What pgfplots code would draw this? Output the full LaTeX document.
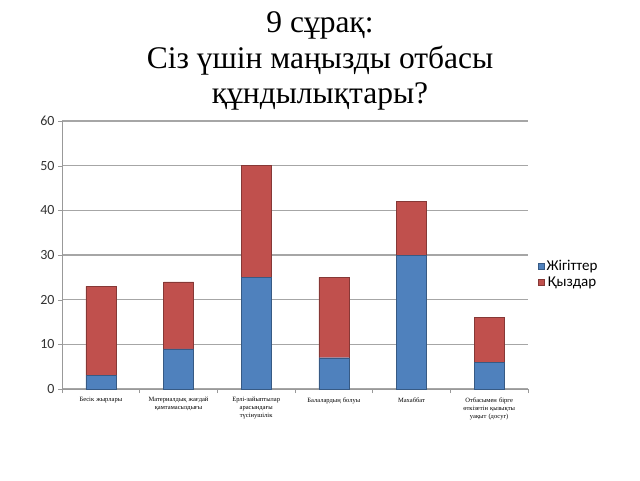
\documentclass[border=0pt]{standalone}
\usepackage{pgfplots}
\pgfplotsset{compat=1.18}
\usepackage{fontspec}
\setmainfont{Liberation Serif}
\newfontfamily\calfont{Carlito}
\definecolor{cblue}{HTML}{4F81BD}
\definecolor{cred}{HTML}{C0504D}
\begin{document}
\begin{tikzpicture}[x=1pt,y=1pt]
\useasboundingbox[fill=white] (0,0) rectangle (640,480);
\node[align=center,font=\fontsize{31.5}{35.5}\selectfont] at (320,419) {9 сұрақ:\\Сіз үшін маңызды отбасы\\құндылықтары?};
\begin{axis}[
  at={(62pt,91pt)}, anchor=south west,
  width=466pt, height=268pt, scale only axis,
  ybar stacked, bar width=30pt,
  ymin=0, ymax=60, ytick={0,10,...,60},
  xmin=-0.5, xmax=5.5,
  xtick={0,...,5},
  xticklabels={Бесік жырлары,{Материалдық жағдай\\қамтамасыздығы},{Ерлі-зайыптылар\\арасындағы\\түсінушілік},Балалардың болуы,Махаббат,{Отбасымен бірге\\өткізетін қызықты\\уақыт (досуг)}},
  x tick label style={font=\fontsize{6.5}{8}\selectfont, align=center, text width=75pt, anchor=north, yshift=-1pt},
  major x tick style={draw=none},
  minor xtick={-0.5,0.5,...,5.5},
  minor x tick style={draw=gray!80, thick},
  minor tick length=4pt,
  tick align=outside,
  ymajorgrids, grid style={draw=gray!70, line width=1.4pt},
  axis x line*=bottom, axis y line*=left,
  axis line style={draw=gray!80, line width=0.8pt},
  y tick label style={font=\calfont\fontsize{14}{16}\selectfont, text=black!80},
  /pgf/number format/assume math mode=true,
  major y tick style={draw=gray!80},
  major tick length=4pt,
  legend style={at={(1.015,0.43)}, anchor=west, draw=none, fill=none, font=\calfont\fontsize{15}{17}\selectfont, row sep=1pt},
  legend image code/.code={\fill[#1] (0pt,-3pt) rectangle (6pt,3pt);},
]
\addplot[fill=cblue, draw=cblue!70!black] coordinates {(0,3) (1,9) (2,25) (3,7) (4,30) (5,6)};
\addplot[fill=cred, draw=cred!70!black] coordinates {(0,20) (1,15) (2,25) (3,18) (4,12) (5,10)};
\legend{Жігіттер,Қыздар}
\end{axis}
\end{tikzpicture}
\end{document}
